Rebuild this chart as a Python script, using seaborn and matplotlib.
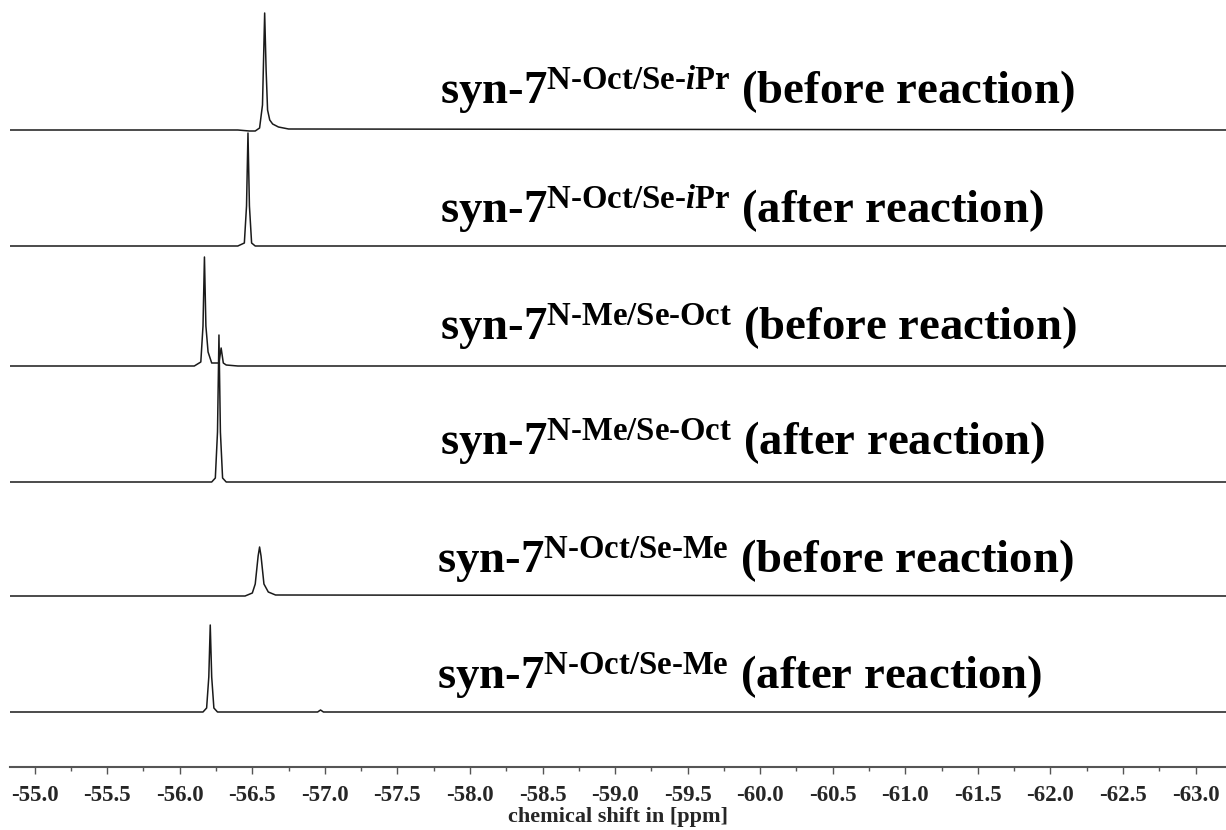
import numpy as np
import pandas as pd
import matplotlib
matplotlib.use("Agg")
import matplotlib.pyplot as plt
import seaborn as sns
from matplotlib.ticker import MultipleLocator, FormatStrFormatter

sns.set_theme(style="white")
plt.rcParams['font.family'] = ['Liberation Serif', 'DejaVu Serif']
plt.rcParams['font.weight'] = 'bold'
plt.rcParams['mathtext.fontset'] = 'custom'
plt.rcParams['mathtext.rm'] = 'Liberation Serif:bold'
plt.rcParams['mathtext.it'] = 'Liberation Serif:bold:italic'
plt.rcParams['mathtext.bf'] = 'Liberation Serif:bold'

# ---- data (ppm, relative intensity) ----
labels = [
    r"syn-7$^{\text{N-Oct/Se-}\mathit{i}\text{Pr}}$ (before reaction)",
    r"syn-7$^{\text{N-Oct/Se-}\mathit{i}\text{Pr}}$ (after reaction)",
    r"syn-7$^{\text{N-Me/Se-Oct}}$ (before reaction)",
    r"syn-7$^{\text{N-Me/Se-Oct}}$ (after reaction)",
    r"syn-7$^{\text{N-Oct/Se-Me}}$ (before reaction)",
    r"syn-7$^{\text{N-Oct/Se-Me}}$ (after reaction)",
]

s1_ppm = [-54.83, -56.40, -56.48, -56.52, -56.55, -56.57, -56.585, -56.595, -56.605, -56.62, -56.64, -56.68, -56.75, -63.21]
s1_int = [0, 0, -1, -1, 2, 25, 117, 60, 20, 10, 6, 3, 1, 0]

s2_ppm = [-54.83, -56.40, -56.445, -56.46, -56.47, -56.48, -56.495, -56.52, -63.21]
s2_int = [0, 0, 3, 40, 113, 40, 3, 0, 0]

s3_ppm = [-54.83, -56.10, -56.145, -56.16, -56.17, -56.18, -56.195, -56.22, -56.27, -56.285, -56.30, -56.32, -56.40, -63.21]
s3_int = [0, 0, 4, 40, 109, 40, 14, 3, 3, 18, 3, 1, 0, 0]

s4_ppm = [-54.83, -56.22, -56.245, -56.26, -56.27, -56.28, -56.295, -56.32, -63.21]
s4_int = [0, 0, 4, 50, 147, 50, 4, 0, 0]

s5_ppm = [-54.83, -56.45, -56.50, -56.52, -56.54, -56.55, -56.56, -56.58, -56.61, -56.66, -63.21]
s5_int = [0, 0, 3, 12, 40, 49, 40, 12, 4, 1, 0]

s6_ppm = [-54.83, -56.16, -56.185, -56.20, -56.21, -56.22, -56.235, -56.26, -56.95, -56.97, -56.99, -63.21]
s6_int = [0, 0, 4, 35, 87, 35, 4, 0, 0, 2, 0, 0]

spectra_ppm = [s1_ppm, s2_ppm, s3_ppm, s4_ppm, s5_ppm, s6_ppm]
spectra_int = [s1_int, s2_int, s3_int, s4_int, s5_int, s6_int]

# layout (vertical offsets of each trace, label baselines)
offsets = [637, 521, 401, 285, 171, 55]
label_y = [663, 544, 426, 311, 193, 77]
label_x = [-57.79, -57.79, -57.79, -57.79, -57.77, -57.77]

fig = plt.figure(figsize=(12.26, 8.30), dpi=100)
ax = fig.add_axes([10/1226, 1 - 767/830, 1 - 10/1226, 767/830])

rows = []
for k, (xs, ys) in enumerate(zip(spectra_ppm, spectra_int)):
    for i, (x, y) in enumerate(zip(xs, ys)):
        rows.append({"ppm": x, "y": y + offsets[k], "trace": k, "order": i})
df = pd.DataFrame(rows)

for k in range(len(spectra_ppm)):
    sub = df[df.trace == k]
    sns.lineplot(data=sub, x="ppm", y="y", ax=ax, color="#1a1a1a",
                 linewidth=1.1, sort=False, estimator=None, legend=False)

for k, lab in enumerate(labels):
    ax.text(label_x[k], label_y[k], lab, fontsize=33.7, fontweight='bold',
            ha='left', va='baseline', color='black')

ax.set_xlim(-54.83, -63.21)
ax.set_ylim(0, 767)
ax.set_yticks([])
ax.set_ylabel("")
for sp in ['top', 'left', 'right']:
    ax.spines[sp].set_visible(False)
ax.spines['bottom'].set_color('#555555')
ax.spines['bottom'].set_linewidth(1.5)

ax.xaxis.set_major_locator(MultipleLocator(0.5))
ax.xaxis.set_minor_locator(MultipleLocator(0.25))
ax.xaxis.set_major_formatter(FormatStrFormatter('%.1f'))
ax.tick_params(axis='x', which='major', direction='out', length=5, width=1,
               color='#555555', bottom=True, labelsize=16.5, pad=8)
ax.tick_params(axis='x', which='minor', direction='out', length=3, width=1,
               color='#555555', bottom=True)
for t in ax.get_xticklabels():
    t.set_fontweight('bold')
ax.set_xlabel("chemical shift in [ppm]", fontsize=16, fontweight='bold', labelpad=1)
ax.grid(False)

fig.savefig("out.png", dpi=100)
